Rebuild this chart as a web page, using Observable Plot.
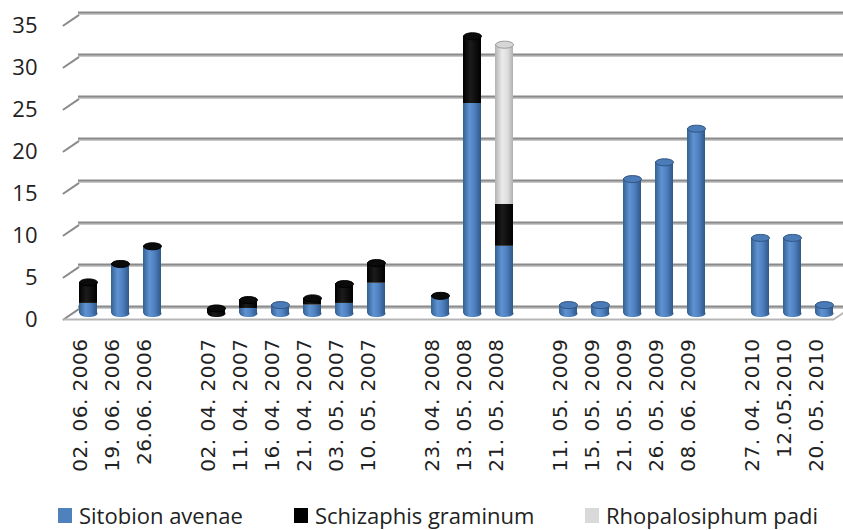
<!DOCTYPE html>
<html>
<head>
<meta charset="utf-8">
<script src="https://cdn.jsdelivr.net/npm/d3@7"></script>
<script src="https://cdn.jsdelivr.net/npm/@observablehq/plot@0.6"></script>
<style>
  html, body { margin: 0; padding: 0; background: #fff; }
  #chart { width: 843px; height: 530px; overflow: hidden; }
  #legend { position: relative; width: 843px; height: 30px; font-family: "Open Sans", sans-serif; font-size: 22px; color: #222; }
  #legend .item { position: absolute; top: 1px; height: 28px; display: flex; align-items: center; white-space: nowrap; }
  #legend .sw { width: 14px; height: 15px; margin-right: 7px; }
  #chart svg g[aria-label="x-axis tick label"] text { letter-spacing: 0.5px; }
</style>
</head>
<body>
<svg width="0" height="0" style="position:absolute">
  <defs>
    <linearGradient id="gBlue" x1="0" x2="1" y1="0" y2="0">
      <stop offset="0%" stop-color="#345f93"/>
      <stop offset="35%" stop-color="#5f92d1"/>
      <stop offset="60%" stop-color="#5285c4"/>
      <stop offset="100%" stop-color="#2f5789"/>
    </linearGradient>
    <linearGradient id="gBlack" x1="0" x2="1" y1="0" y2="0">
      <stop offset="0%" stop-color="#000"/>
      <stop offset="40%" stop-color="#1c1c1c"/>
      <stop offset="100%" stop-color="#000"/>
    </linearGradient>
    <linearGradient id="gGray" x1="0" x2="1" y1="0" y2="0">
      <stop offset="0%" stop-color="#b3b3b3"/>
      <stop offset="40%" stop-color="#ebebeb"/>
      <stop offset="70%" stop-color="#dddddd"/>
      <stop offset="100%" stop-color="#b0b0b0"/>
    </linearGradient>
  </defs>
</svg>
<div id="chart"></div>
<script>
// ---- data ----
const dates = ["02. 06. 2006", "19. 06. 2006", "26.06. 2006",
  "02. 04. 2007", "11. 04. 2007", "16. 04. 2007", "21. 04. 2007", "03. 05. 2007", "10. 05. 2007",
  "23. 04. 2008", "13. 05. 2008", "21. 05. 2008",
  "11. 05. 2009", "15. 05. 2009", "21. 05. 2009", "26. 05. 2009", "08. 06. 2009",
  "27. 04. 2010", "12.05.2010", "20. 05. 2010"];
const sitobion      = [1.2, 5.8, 7.9, 0,   0.6, 1.0, 1.0, 1.2, 3.6, 2.0, 25, 8,  1, 1, 16, 18, 22, 9, 9, 1];
const schizaphis    = [2.5, 0.1, 0.1, 0.6, 1.0, 0,   0.8, 2.3, 2.4, 0.1, 8,  5,  0, 0, 0,  0,  0,  0, 0, 0];
const rhopalosiphum = [0,   0,   0,   0,   0,   0,   0,   0,   0,   0,   0,  19, 0, 0, 0,  0,  0,  0, 0, 0];
const species = ["Sitobion avenae", "Schizaphis graminum", "Rhopalosiphum padi"];
const yTicks = [0, 5, 10, 15, 20, 25, 30, 35];

// ---- derived tables ----
const seriesValues = [sitobion, schizaphis, rhopalosiphum];
const gradFill = ["url(#gBlue)", "url(#gBlack)", "url(#gGray)"];
const capFill = ["#4b7cb8", "#0b0b0b", "#d6d6d6"];
const capStroke = ["#2e5482", "#000", "#9a9a9a"];

const years = dates.map(d => d.slice(-4));
const domain = [];
dates.forEach((d, i) => {
  if (i > 0 && years[i] !== years[i - 1]) domain.push("gap" + i);
  domain.push(d);
});

const rows = [];
dates.forEach((d, i) => species.forEach((s, k) => {
  rows.push({date: d, species: s, value: seriesValues[k][i], fill: gradFill[k]});
}));

const tops = [], bottoms = [];
dates.forEach((d, i) => {
  let total = 0, topK = 0, botK = -1;
  seriesValues.forEach((arr, k) => {
    if (arr[i] > 0) { total += arr[i]; topK = k; if (botK < 0) botK = k; }
  });
  tops.push({date: d, total, fill: capFill[topK], stroke: capStroke[topK]});
  bottoms.push({date: d, fill: gradFill[botK]});
});

// ellipse shapes for cylinder caps
function ellipseShape(rx, ry) {
  const k = 0.5523;
  return {
    draw(c) {
      c.moveTo(-rx, 0);
      c.bezierCurveTo(-rx, -ry * k, -rx * k, -ry, 0, -ry);
      c.bezierCurveTo(rx * k, -ry, rx, -ry * k, rx, 0);
      c.bezierCurveTo(rx, ry * k, rx * k, ry, 0, ry);
      c.bezierCurveTo(-rx * k, ry, -rx, ry * k, -rx, 0);
      c.closePath();
    }
  };
}
const lineShape = {draw(c, l) { c.moveTo(0, 0); c.lineTo(0, -l); }};

const barDx = 8, barDy = -6;

const chart = Plot.plot({
  width: 843,
  height: 500,
  marginLeft: 63,
  marginRight: 10,
  marginTop: 25,
  marginBottom: 181,
  x: {domain, paddingInner: 0.44, paddingOuter: 0.22, axis: null},
  y: {domain: [0, 35], axis: null},
  color: {type: "identity"},
  style: {background: "white", overflow: "visible"},
  marks: [
    // back-wall gridlines
    Plot.ruleY(yTicks, {dx: 15, dy: -12, stroke: "#c8c8c8", strokeWidth: 3}),
    Plot.ruleY(yTicks, {dx: 15, dy: -13, stroke: "#8a8a8a", strokeWidth: 2}),
    // slanted side-wall ticks
    Plot.vector(yTicks, {y: d => d, frameAnchor: "left", length: 18, rotate: 56, anchor: "start",
      shape: lineShape, stroke: "#8a8a8a", strokeWidth: 2}),
    // floor front edge and right edge
    Plot.ruleY([0], {stroke: "#b5b5b5", strokeWidth: 2}),
    Plot.vector([0], {y: d => d, frameAnchor: "right", length: 16, rotate: 56, anchor: "start",
      shape: lineShape, stroke: "#b5b5b5", strokeWidth: 2}),
    // bottom rounded caps
    Plot.vector(bottoms, {x: "date", y: () => 0, length: 1, anchor: "start", shape: ellipseShape(9, 3.5),
      fill: "fill", stroke: "none", dx: barDx, dy: barDy}),
    // stacked cylinders
    Plot.barY(rows, Plot.stackY({x: "date", y: "value", z: "species", fill: "fill", order: null,
      dx: barDx, dy: barDy})),
    // top caps
    Plot.vector(tops, {x: "date", y: "total", length: 1, anchor: "start", shape: ellipseShape(9, 3.5),
      fill: "fill", stroke: "stroke", strokeWidth: 1, dx: barDx, dy: barDy}),
    // axes
    Plot.axisY(yTicks, {tickSize: 0, tickPadding: 26, fontSize: 22, fontFamily: "Open Sans, sans-serif",
      fill: "#222", label: null}),
    Plot.axisX({tickSize: 0, tickPadding: 19, tickRotate: -90, fontSize: 20,
      fontFamily: "DejaVu Sans, sans-serif", fill: "#222", label: null,
      tickFormat: d => d.startsWith("gap") ? "" : d})
  ]
});

const holder = document.getElementById("chart");
holder.appendChild(chart);

// legend
const legend = document.createElement("div");
legend.id = "legend";
const legendX = [58, 294, 585];
const legendSw = ["#4f81bd", "#000000", "#d9d9d9"];
species.forEach((s, k) => {
  const it = document.createElement("div");
  it.className = "item";
  it.style.left = legendX[k] + "px";
  const sw = document.createElement("span");
  sw.className = "sw";
  sw.style.background = legendSw[k];
  const t = document.createElement("span");
  t.textContent = s;
  it.appendChild(sw); it.appendChild(t);
  legend.appendChild(it);
});
holder.appendChild(legend);
</script>
</body>
</html>
